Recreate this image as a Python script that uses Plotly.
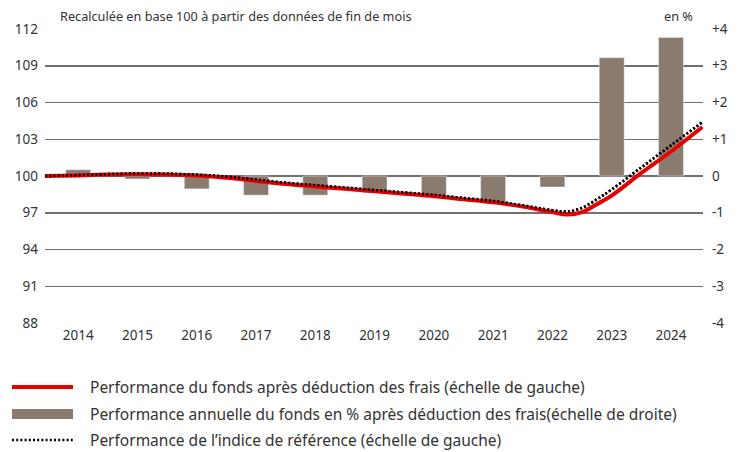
import plotly.graph_objects as go

# ---------------- data ----------------
years = [2014, 2015, 2016, 2017, 2018, 2019, 2020, 2021, 2022, 2023, 2024]
annual_perf = [0.17, -0.08, -0.35, -0.52, -0.52, -0.45, -0.57, -0.70, -0.30, 3.22, 3.77]

line_x = [2013.44, 2014.0, 2014.5, 2015.0, 2015.5, 2016.0, 2016.5, 2017.0, 2017.5,
          2018.0, 2018.5, 2019.0, 2019.5, 2020.0, 2020.5, 2021.0, 2021.5, 2022.0,
          2022.25, 2022.5, 2022.75, 2023.0, 2023.5, 2024.0, 2024.53]
fund = [100.0, 100.05, 100.12, 100.15, 100.12, 100.05, 99.85, 99.6, 99.35,
        99.15, 98.95, 98.75, 98.55, 98.35, 98.1, 97.85, 97.5, 97.05,
        96.85, 97.05, 97.7, 98.4, 100.25, 102.0, 104.0]
bench = [100.0, 100.07, 100.15, 100.2, 100.18, 100.1, 99.95, 99.7, 99.45,
         99.25, 99.05, 98.85, 98.65, 98.45, 98.2, 97.95, 97.6, 97.2,
         97.1, 97.4, 98.1, 98.9, 100.7, 102.5, 104.4]

left_ticks = [88, 91, 94, 97, 100, 103, 106, 109, 112]
right_ticks = [-4, -3, -2, -1, 0, 1, 2, 3, 4]
right_labels = ["-4", "-3", "-2", "-1", "0", "+1", "+2", "+3", "+4"]

legend_labels = [
    "Performance du fonds après déduction des frais (échelle de gauche)",
    "Performance annuelle du fonds en % après déduction des frais(échelle de droite)",
    "Performance de l’indice de référence (échelle de gauche)",
]
subtitle = "Recalculée en base 100 à partir des données de fin de mois"
unit_label = "en %"

# ---------------- style ----------------
W, H = 739, 452
ML, MR, MT, MB = 45, 36, 29, 129
PW, PH = W - ML - MR, H - MT - MB
FONT = "Noto Sans"
RED = "#e60000"
BAR = "#8a7b6e"
GRID = "#707070"
TXT = "#333333"


def px_x(px):
    return (px - ML) / PW


def px_y(py):
    return (H - MB - py) / PH


fig = go.Figure()
fig.add_trace(go.Bar(x=years, y=annual_perf, marker_color=BAR, width=0.42,
                     yaxis="y", showlegend=False))
fig.add_trace(go.Scatter(x=line_x, y=bench, mode="lines", yaxis="y2",
                         line=dict(color="#000000", width=2.6, dash="2px,2.2px", shape="spline"),
                         showlegend=False))
fig.add_trace(go.Scatter(x=line_x, y=fund, mode="lines", yaxis="y2",
                         line=dict(color=RED, width=4, shape="spline"),
                         showlegend=False))
# redraw dotted on top of red where they overlap
fig.add_trace(go.Scatter(x=line_x, y=bench, mode="lines", yaxis="y2",
                         line=dict(color="#000000", width=2.6, dash="2px,2.2px", shape="spline"),
                         showlegend=False))

fig.update_layout(
    width=W, height=H,
    margin=dict(l=ML, r=MR, t=MT, b=MB, autoexpand=False),
    paper_bgcolor="white", plot_bgcolor="white",
    font=dict(family=FONT, color=TXT, size=13),
    bargap=0,
    hovermode=False,
    xaxis=dict(range=[2013.44, 2024.54], tickvals=years, ticktext=[str(y) for y in years],
               showgrid=False, zeroline=False, showline=False, ticks="", automargin=False,
               tickfont=dict(size=13.5, color=TXT), ticklabelstandoff=2),
    yaxis=dict(range=[-4, 4], tickvals=right_ticks, ticktext=right_labels, side="right",
               showgrid=True, gridcolor=GRID, gridwidth=1.5, zeroline=False, automargin=False,
               showline=False, ticks="", tickfont=dict(size=13.5, color=TXT),
               ticklabelstandoff=8),
    yaxis2=dict(range=[88, 112], tickvals=left_ticks, overlaying="y", side="left",
                showgrid=False, zeroline=False, showline=False, ticks="", automargin=False,
                tickfont=dict(size=13.5, color=TXT), ticklabelstandoff=6),
)

ann = [
    dict(text=subtitle, x=px_x(58), y=px_y(16), xanchor="left", yanchor="middle",
         font=dict(size=12.7, color=TXT)),
    dict(text=unit_label, x=px_x(695), y=px_y(16), xanchor="right", yanchor="middle",
         font=dict(size=12.7, color=TXT)),
]
rows_y = [387, 414, 440]
for lab, ry in zip(legend_labels, rows_y):
    ann.append(dict(text=lab, x=px_x(88), y=px_y(ry), xanchor="left", yanchor="middle",
                    font=dict(size=15.5, color=TXT)))
for a in ann:
    a.update(xref="paper", yref="paper", showarrow=False)
fig.update_layout(annotations=ann)

shapes = [
    dict(type="line", x0=px_x(12), x1=px_x(73), y0=px_y(387), y1=px_y(387),
         line=dict(color=RED, width=4)),
    dict(type="rect", x0=px_x(12), x1=px_x(73), y0=px_y(409), y1=px_y(419),
         line=dict(width=0), fillcolor=BAR),
    dict(type="line", x0=px_x(12), x1=px_x(73), y0=px_y(440), y1=px_y(440),
         line=dict(color="#000000", width=2.6, dash="2px,2.2px")),
]
for s in shapes:
    s.update(xref="paper", yref="paper")
fig.update_layout(shapes=shapes)

fig.write_html("out.html", config={"displayModeBar": False, "staticPlot": True},
               post_script="document.body.style.margin='0';document.body.style.overflow='hidden';")
